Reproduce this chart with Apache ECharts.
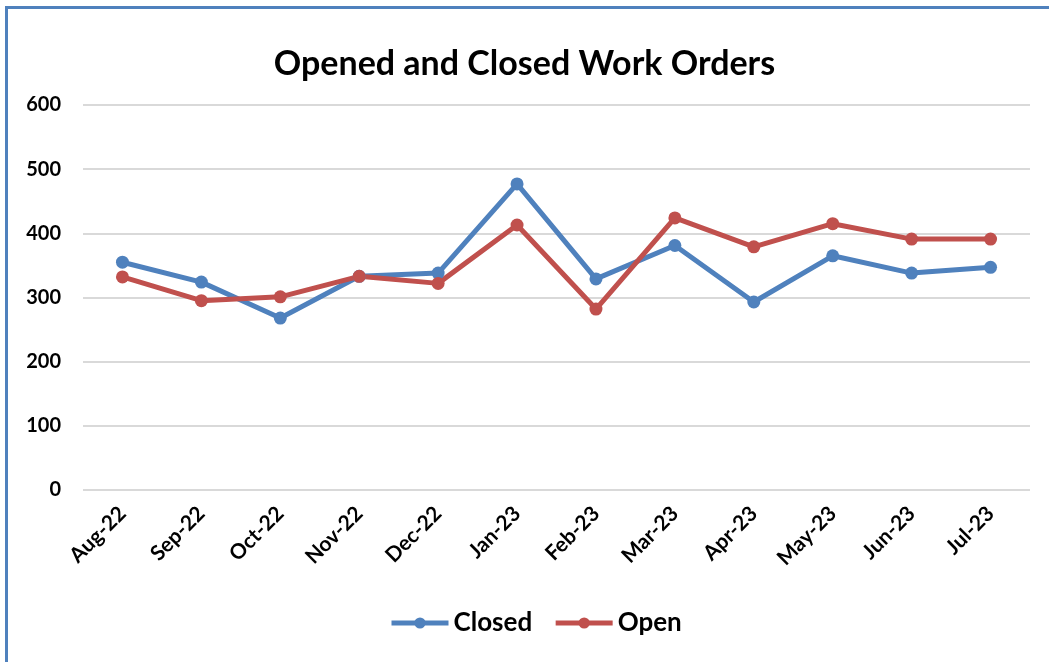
<!DOCTYPE html>
<html>
<head>
<meta charset="utf-8">
<script src="https://cdn.jsdelivr.net/npm/echarts@6/dist/echarts.min.js"></script>
<style>
	html, body { margin: 0; padding: 0; background: #fff; }
	#frame {
		position: absolute; left: 5px; top: 6px; width: 1044px; height: 656px;
		border-left: 3px solid #4F81BD; border-top: 3px solid #4F81BD;
	}
	#main { position: absolute; left: 0; top: 0; width: 1049px; height: 662px; }
</style>
</head>
<body>
<div id="frame"></div>
<div id="main"></div>
<script>
	var months = ['Aug-22','Sep-22','Oct-22','Nov-22','Dec-22','Jan-23','Feb-23','Mar-23','Apr-23','May-23','Jun-23','Jul-23'];
	var closedData = [355, 324, 268, 333, 338, 477, 329, 381, 293, 365, 338, 347];
	var openData = [332, 295, 301, 333, 322, 413, 282, 424, 379, 415, 391, 391];
	var yTicks = [0, 100, 200, 300, 400, 500, 600];

	var fontName = 'Lato, "Open Sans", sans-serif';

	var chart = echarts.init(document.getElementById('main'));
	chart.setOption({
		animation: false,
		title: {
			text: 'Opened and Closed Work Orders',
			left: 'center',
			top: 42,
			textStyle: { fontFamily: fontName, fontSize: 34, fontWeight: 'bold', color: '#000' }
		},
		legend: {
			bottom: 21,
			left: 384,
			itemWidth: 57,
			itemHeight: 14,
			itemGap: 21,
			lineStyle: { width: 5 },
			textStyle: { fontFamily: fontName, fontSize: 26, fontWeight: 'bold', color: '#000' },
			data: ['Closed', 'Open']
		},
		grid: { left: 83, right: 19, top: 105, bottom: 172 },
		xAxis: {
			type: 'category',
			data: months,
			boundaryGap: true,
			axisLine: { show: false },
			axisTick: { show: false },
			axisLabel: {
				rotate: 45,
				margin: 20,
				fontFamily: fontName,
				fontSize: 21,
				fontWeight: 'bold',
				color: '#000'
			}
		},
		yAxis: {
			type: 'value',
			min: yTicks[0],
			max: yTicks[yTicks.length - 1],
			interval: 100,
			axisLine: { show: false },
			axisTick: { show: false },
			splitLine: { lineStyle: { color: '#d9d9d9', width: 2 } },
			axisLabel: {
				margin: 22,
				fontFamily: fontName,
				fontSize: 20,
				fontWeight: 'bold',
				color: '#000'
			}
		},
		series: [
			{
				name: 'Closed',
				type: 'line',
				data: closedData,
				symbol: 'circle',
				symbolSize: 13,
				lineStyle: { width: 5, color: '#4F81BD' },
				itemStyle: { color: '#4F81BD' }
			},
			{
				name: 'Open',
				type: 'line',
				data: openData,
				symbol: 'circle',
				symbolSize: 13,
				lineStyle: { width: 5, color: '#C0504D' },
				itemStyle: { color: '#C0504D' }
			}
		]
	});
</script>
</body>
</html>
